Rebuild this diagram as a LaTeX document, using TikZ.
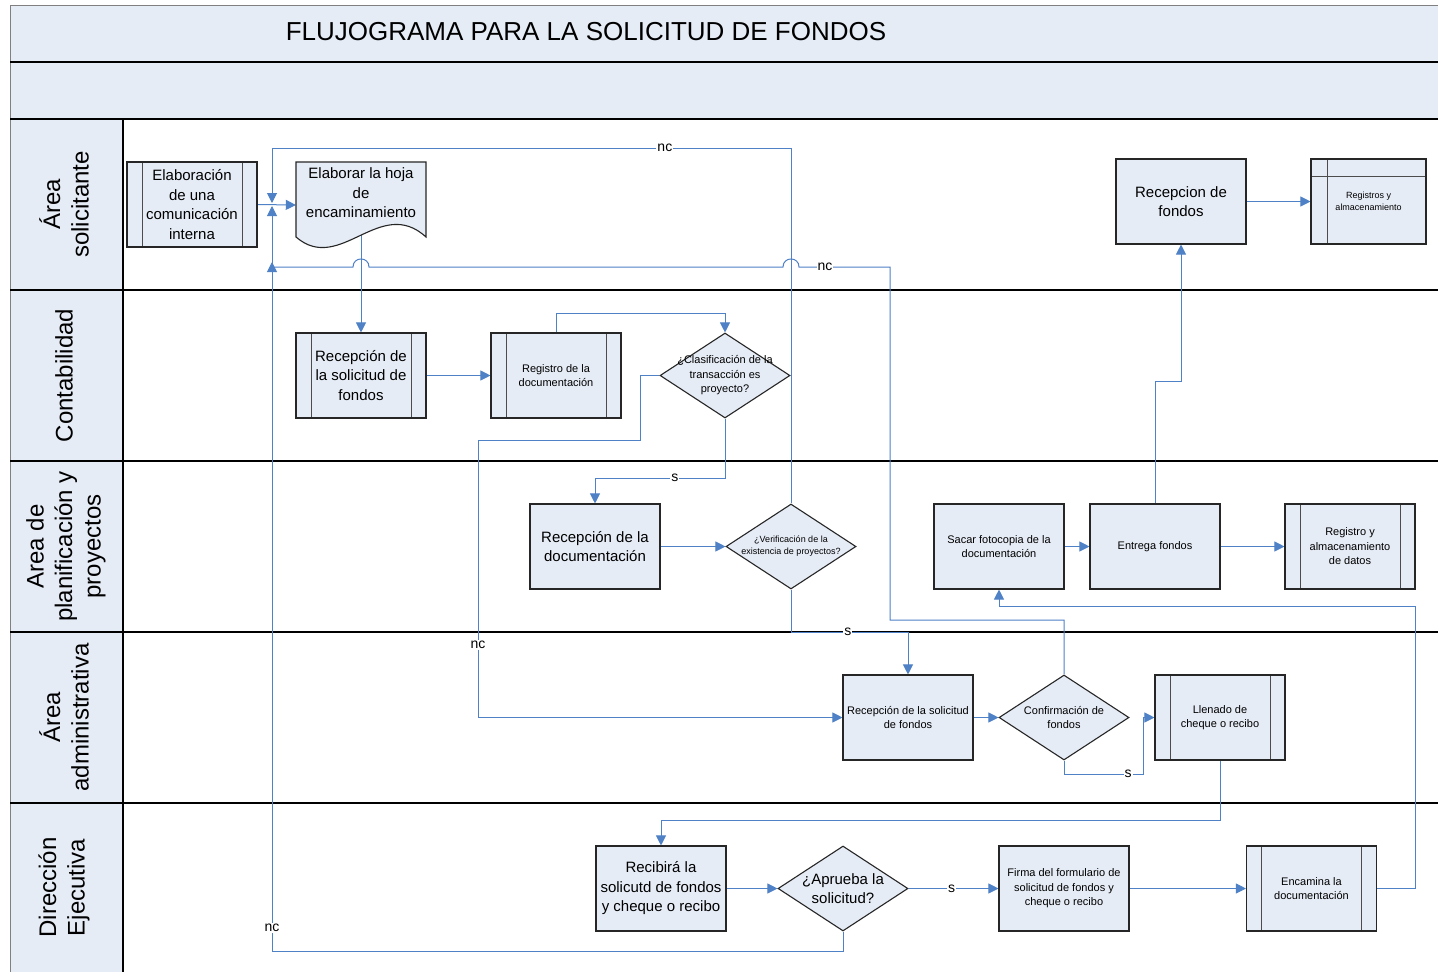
\documentclass[tikz,border=0pt]{standalone}
\usepackage{fontspec}
\setmainfont{Liberation Sans}
\usetikzlibrary{arrows.meta,shapes.geometric}
\definecolor{fillb}{RGB}{230,236,246}
\definecolor{wirec}{RGB}{79,129,199}
\pgfdeclarelayer{back}
\pgfdeclarelayer{wires}
\pgfsetlayers{back,wires,main}
\newcommand\fbig{\fontsize{15}{19.5}\selectfont}
\newcommand\fmid{\fontsize{11}{14.5}\selectfont}
\newcommand\fsml{\fontsize{9}{12}\selectfont}
\newcommand\flane{\fontsize{24}{28.5}\selectfont}
\tikzset{
  box/.style={draw=black!85, line width=1.1pt, fill=fillb, minimum width=130pt,
    minimum height=85pt, align=center, inner sep=1pt, font=\fmid},
  proc/.style={box, path picture={\draw[black!70,line width=1pt]
    ([xshift=15pt]path picture bounding box.north west) -- ([xshift=15pt]path picture bounding box.south west)
    ([xshift=-15pt]path picture bounding box.north east) -- ([xshift=-15pt]path picture bounding box.south east);}},
  store/.style={box, path picture={\draw[black!70,line width=1pt]
    ([xshift=16pt]path picture bounding box.north west) -- ([xshift=16pt]path picture bounding box.south west)
    ([yshift=-17pt]path picture bounding box.north west) -- ([yshift=-17pt]path picture bounding box.north east);}},
  dec/.style={diamond, draw=black!85, line width=1.1pt, fill=fillb, minimum width=130pt,
    minimum height=85pt, inner sep=0pt},
  dtext/.style={align=center, inner sep=0pt},
  wire/.style={draw=wirec, line width=1pt, -{Triangle[length=10pt,width=10pt,fill=wirec]}},
  lbl/.style={fill=white, inner sep=1pt, text=black, font=\fontsize{14}{14}\selectfont},
  lanetxt/.style={rotate=90, align=center, font=\flane},
}
\begin{document}
\begin{tikzpicture}[x=1pt,y=-1pt]
\useasboundingbox (0,0) rectangle (1438,972);
% frame and lanes
\begin{pgfonlayer}{back}
  \fill[white] (0,0) rectangle (1438,972);
  \fill[fillb] (10,5) rectangle (1438,119);
  \fill[fillb] (10,119) rectangle (123,972);
  \draw[black!50, line width=0.8pt] (10,5) -- (1438,5) (10,5) -- (10,972);
  \draw[black, line width=1.4pt] (10,62) -- (1438,62) (10,119) -- (1438,119);
  \foreach \yy in {290,461,632,803} \draw[black, line width=1.8pt] (10,\yy) -- (1438,\yy);
  \draw[black, line width=1.4pt] (123,119) -- (123,972);
\end{pgfonlayer}
\node[font=\fontsize{26}{26}\selectfont] (title) at (586,32) {FLUJOGRAMA PARA LA SOLICITUD DE FONDOS};
\node[lanetxt] (l1) at (64,204.5) {Área\\solicitante};
\node[lanetxt] (l2) at (64,375.5) {Contabilidad};
\node[lanetxt] (l3) at (66,546.5) {Area de\\planificación y\\proyectos};
\node[lanetxt] (l4) at (64,717.5) {Área\\administrativa};
\node[lanetxt] (l5) at (64,887.5) {Dirección\\Ejecutiva};

% nodes
\node[proc, font=\fbig] (elab) at (192,204.5) {Elaboración\\de una\\comunicación\\interna};
\node[minimum width=130pt, minimum height=86pt, inner sep=0pt] (hoja) at (361,205) {};
\draw[draw=black!85, line width=1.1pt, fill=fillb] (296,162) -- (426,162) -- (426,237)
  .. controls (380,195) and (340,275) .. (296,237) -- cycle;
\node[align=center, font=\fbig] (hojat) at (361,193) {Elaborar la hoja\\de\\encaminamiento};
\node[box, font=\fbig] (rfondos) at (1181,201.5) {Recepcion de\\fondos};
\node[store, minimum width=115pt, font=\fsml] (regs) at (1368.5,201.5) {Registros y\\almacenamiento};
\node[proc, font=\fbig] (rsol) at (361,375.5) {Recepción de\\la solicitud de\\fondos};
\node[proc] (regdoc) at (556,375.5) {Registro de la\\documentación};
\node[dec] (clas) at (725,375.5) {};
\node[dtext, font=\fmid] (clast) at (clas) {¿Clasificación de la\\transacción es\\proyecto?};
\node[box, font=\fbig] (rdoc) at (595,546.5) {Recepción de la\\documentación};
\node[dec] (verif) at (791,546.5) {};
\node[dtext, font=\fsml] (veriftx) at (verif) {¿Verificación de la\\existencia de proyectos?};
\node[box] (sacar) at (999,546.5) {Sacar fotocopia de la\\documentación};
\node[box] (entrega) at (1155,546.5) {Entrega fondos};
\node[proc] (regdat) at (1350,546.5) {Registro y\\almacenamiento\\de datos};
\node[box] (radm) at (908,717.5) {Recepción de la solicitud\\de fondos};
\node[dec] (conf) at (1064,717.5) {};
\node[dtext, font=\fmid] (conft) at (conf) {Confirmación de\\fondos};
\node[proc] (llen) at (1220,717.5) {Llenado de\\cheque o recibo};
\node[box, font=\fbig] (recib) at (661,888.5) {Recibirá la\\solicutd de fondos\\y cheque o recibo};
\node[dec] (aprueba) at (843,888.5) {};
\node[dtext, font=\fbig] (apruebat) at (aprueba) {¿Aprueba la\\solicitud?};
\node[box] (firma) at (1064,888.5) {Firma del formulario de\\solicitud de fondos y\\cheque o recibo};
\node[proc] (encam) at (1311.5,888.5) {Encamina la\\documentación};

\coordinate (jtop) at (272,203);
\coordinate (jbot) at (272,206);
\coordinate (jmid) at (272,262);

% connectors
\begin{pgfonlayer}{wires}
  \draw[wire] (elab.east) -- (hoja.west);
  \draw[wire] (verif.north) -- (791,148) -- node[lbl,pos=0.243]{nc} (272,148) -- (jtop);
  \draw[wire] (aprueba.south) -- (843,951) -- (272,951) -- node[lbl,pos=0.031]{nc} (jbot);
  \draw[wire] (conf.north) -- (1064,620) -- (890,620) -- (890,267) -- node[lbl,pos=0.714]{nc} (799,267)
     .. controls (799,256.3) and (783,256.3) .. (783,267) -- (369,267)
     .. controls (369,256.3) and (353,256.3) .. (353,267) -- (272,267) -- (jmid);
  \draw[wire] (hoja.center) -- (rsol.north);
  \draw[wire] (rsol.east) -- (regdoc.west);
  \draw[wire] (regdoc.north) -- (556,313) -- (725,313) -- (clas.north);
  \draw[wire] (clas.west) -- (640,375.5) -- (640,440) -- (478,440) -- node[lbl,pos=0.739]{nc} (478,717.5) -- (radm.west);
  \draw[wire] (clas.south) -- (725,478) -- node[lbl,pos=0.385]{s} (595,478) -- (rdoc.north);
  \draw[wire] (rdoc.east) -- (verif.west);
  \draw[wire] (verif.south) -- (791,632) -- node[lbl,pos=0.487]{s} (908,632) -- (radm.north);
  \draw[wire] (radm.east) -- (conf.west);
  \draw[wire] (conf.south) -- (1064,774) -- node[lbl,pos=0.81]{s} (1143,774) -- (1143,717.5) -- (llen.west);
  \draw[wire] (llen.south) -- (1220,820) -- (661,820) -- (recib.north);
  \draw[wire] (recib.east) -- (aprueba.west);
  \draw[wire] (aprueba.east) -- node[lbl,pos=0.48]{s} (firma.west);
  \draw[wire] (firma.east) -- (encam.west);
  \draw[wire] (encam.east) -- (1415,888.5) -- (1415,606) -- (999,606) -- (sacar.south);
  \draw[wire] (sacar.east) -- (entrega.west);
  \draw[wire] (entrega.east) -- (regdat.west);
  \draw[wire] (entrega.north) -- (1155,381) -- (1181,381) -- (rfondos.south);
  \draw[wire] (rfondos.east) -- (regs.west);
\end{pgfonlayer}
\end{tikzpicture}
\end{document}
